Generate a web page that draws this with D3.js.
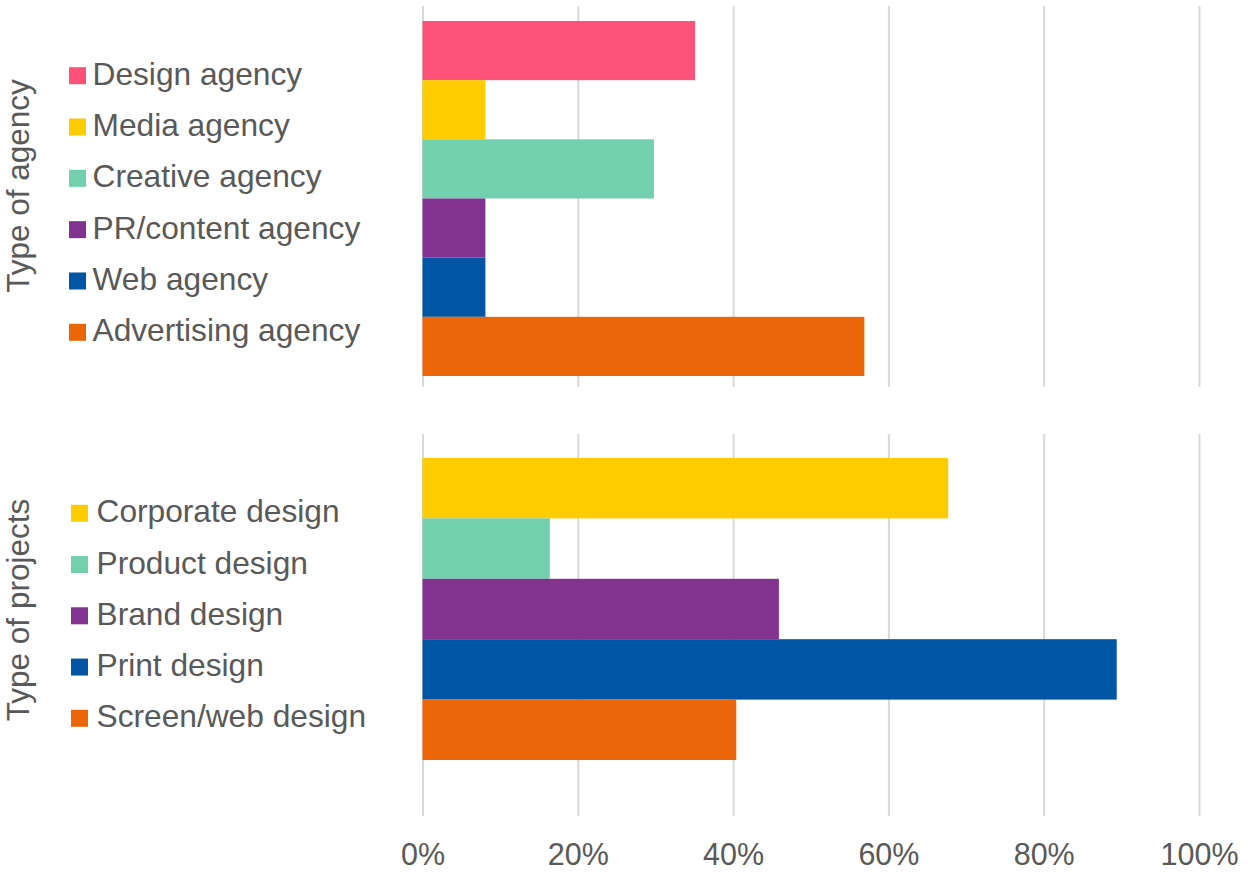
<!DOCTYPE html>
<html>
<head>
<meta charset="utf-8">
<script src="https://cdn.jsdelivr.net/npm/d3@7"></script>
<style>
  html, body { margin: 0; padding: 0; background: #ffffff; }
  svg { display: block; }
  text { font-family: "Liberation Sans", Arial, sans-serif; fill: #595959; }
</style>
</head>
<body>
<svg id="chart" width="1248" height="873"></svg>
<script>
// Share of respondents (%) per agency type and per project type
const agencyTypes = ["Design agency", "Media agency", "Creative agency", "PR/content agency", "Web agency", "Advertising agency"];
const agencyValues = [35.1, 8.1, 29.8, 8.1, 8.1, 56.9];
const agencyColors = ["#fe527a", "#ffcc00", "#72d0ae", "#82338f", "#0055a5", "#eb6608"];

const projectTypes = ["Corporate design", "Product design", "Brand design", "Print design", "Screen/web design"];
const projectValues = [67.7, 16.4, 45.9, 89.4, 40.4];
const projectColors = ["#ffcc00", "#72d0ae", "#82338f", "#0055a5", "#eb6608"];

const xTicks = [0, 20, 40, 60, 80, 100];
const panelTitles = ["Type of agency", "Type of projects"];

const svg = d3.select("#chart");
const x = d3.scaleLinear().domain([0, 100]).range([422.5, 1199]);

const panels = [
  { title: panelTitles[0], cats: agencyTypes, vals: agencyValues, colors: agencyColors,
    grid: [6, 387], bars: [21, 376], legendX: 69, textX: 92.5, legendY: [75.7, 332.3], titleY: 186 },
  { title: panelTitles[1], cats: projectTypes, vals: projectValues, colors: projectColors,
    grid: [434, 816], bars: [458, 760], legendX: 71, textX: 96.5, legendY: [513.3, 718.3], titleY: 610 }
];

panels.forEach(p => {
  const g = svg.append("g");

  // vertical gridlines
  g.append("g")
    .attr("transform", `translate(0,${p.grid[1]})`)
    .call(d3.axisBottom(x).tickValues(xTicks).tickSize(-(p.grid[1] - p.grid[0])).tickFormat(""))
    .call(a => a.select(".domain").remove())
    .call(a => a.selectAll("line").attr("stroke", "#d9d9d9").attr("stroke-width", 2));

  // bars
  const y = d3.scaleBand().domain(p.cats).range(p.bars).padding(0);
  g.selectAll("rect.bar").data(p.cats).join("rect")
    .attr("class", "bar")
    .attr("x", x(0))
    .attr("y", d => y(d))
    .attr("width", (d, i) => x(p.vals[i]) - x(0))
    .attr("height", y.bandwidth())
    .attr("fill", (d, i) => p.colors[i]);

  // legend
  const ly = d3.scalePoint().domain(p.cats).range(p.legendY);
  const items = g.selectAll("g.item").data(p.cats).join("g").attr("class", "item");
  items.append("rect")
    .attr("x", p.legendX)
    .attr("y", d => ly(d) - 8.5)
    .attr("width", 17).attr("height", 17)
    .attr("fill", (d, i) => p.colors[i]);
  items.append("text")
    .attr("x", p.textX)
    .attr("y", d => ly(d) + 9)
    .attr("font-size", 31.7)
    .text(d => d);

  // rotated panel title
  g.append("text")
    .attr("transform", `translate(29,${p.titleY}) rotate(-90)`)
    .attr("text-anchor", "middle")
    .attr("font-size", 31.5)
    .text(p.title);
});

// shared percentage axis at the bottom
svg.append("g")
  .attr("transform", "translate(0,843)")
  .call(d3.axisBottom(x).tickValues(xTicks).tickSize(0).tickPadding(0).tickFormat(d => d + "%"))
  .call(a => a.select(".domain").remove())
  .call(a => a.selectAll("text")
    .attr("font-size", 30.5)
    .attr("dy", null)
    .attr("y", 22)
    .attr("fill", "#595959")
    .style("font-family", '"Liberation Sans", Arial, sans-serif'));
</script>
</body>
</html>
